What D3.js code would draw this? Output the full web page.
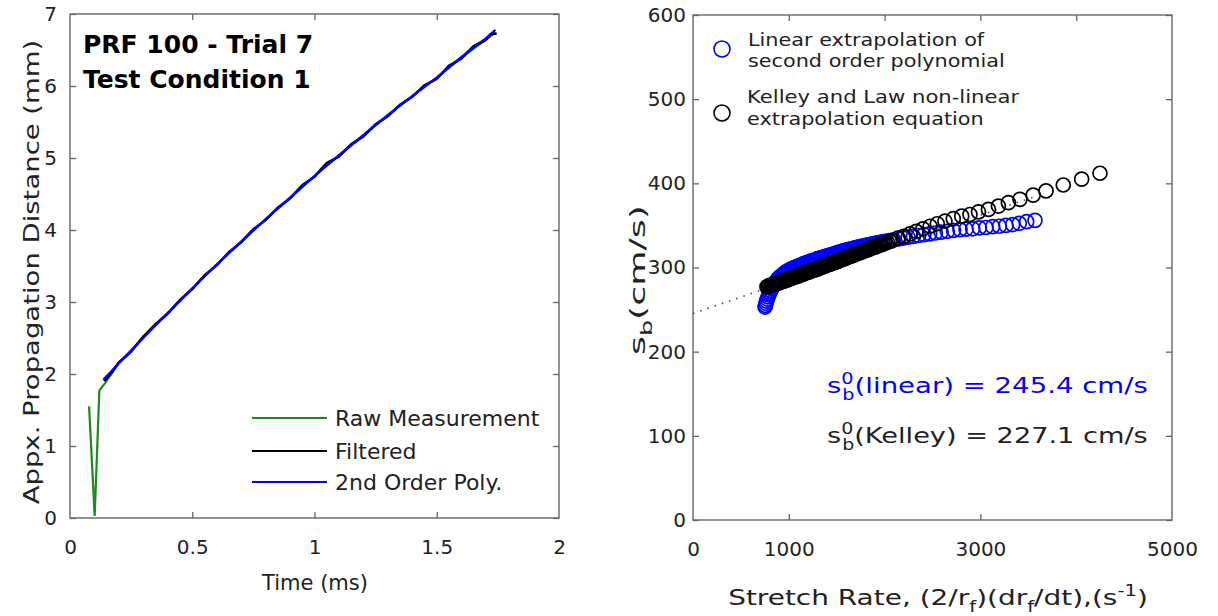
<!DOCTYPE html>
<html>
<head>
<meta charset="utf-8">
<script src="https://cdn.jsdelivr.net/npm/d3@7"></script>
<style>
  body { margin: 0; background: #fff; }
  text { font-family: "DejaVu Sans", Verdana, sans-serif; }
</style>
</head>
<body>
<svg id="chart" width="1218" height="616"></svg>
<script>
// left panel: propagation distance vs time
const rawT = [0.078, 0.101, 0.12, 0.145, 0.2, 0.3, 0.4, 0.5, 0.6, 0.7, 0.8, 0.9, 1.0, 1.1, 1.2, 1.3, 1.4, 1.5, 1.6, 1.7, 1.74];
const rawD = [1.55, 0.03, 1.77, 1.88, 2.15, 2.51, 2.84, 3.18, 3.52, 3.83, 4.15, 4.44, 4.75, 5.03, 5.31, 5.59, 5.86, 6.11, 6.39, 6.64, 6.74];
const filtT = [0.14, 0.17, 0.2, 0.25, 0.3, 0.35, 0.4, 0.45, 0.5, 0.55, 0.6, 0.65, 0.7, 0.75, 0.8, 0.85, 0.9, 0.95, 1.0, 1.05, 1.1, 1.15, 1.2, 1.25, 1.3, 1.35, 1.4, 1.45, 1.5, 1.55, 1.6, 1.65, 1.7, 1.72, 1.745];
const filtD = [1.90, 2.02, 2.16, 2.31, 2.52, 2.69, 2.84, 3.03, 3.18, 3.37, 3.51, 3.69, 3.83, 4.01, 4.14, 4.31, 4.44, 4.62, 4.74, 4.93, 5.02, 5.19, 5.30, 5.47, 5.58, 5.74, 5.85, 6.01, 6.10, 6.28, 6.38, 6.55, 6.64, 6.72, 6.73];
const polyT = [0.136, 0.2, 0.3, 0.4, 0.5, 0.6, 0.7, 0.8, 0.9, 1.0, 1.1, 1.2, 1.3, 1.4, 1.5, 1.6, 1.7, 1.74];
const polyD = [1.92, 2.15, 2.50, 2.85, 3.19, 3.52, 3.84, 4.15, 4.45, 4.75, 5.04, 5.32, 5.60, 5.86, 6.12, 6.40, 6.66, 6.78];
const leftXTicks = [0, 0.5, 1, 1.5, 2];
const leftYTicks = [0, 1, 2, 3, 4, 5, 6, 7];
const leftLegend = ["Raw Measurement", "Filtered", "2nd Order Poly."];

// right panel: burning velocity vs stretch rate
const linX = [3570, 3483, 3406, 3337, 3267, 3198, 3128, 3058, 2989, 2920, 2850, 2787, 2720, 2655, 2590, 2530, 2470, 2410, 2355, 2300, 2245, 2195, 2145, 2095, 2050,
  2005, 1980, 1960, 1935, 1915, 1895, 1875, 1855, 1835, 1815, 1795, 1775, 1755, 1735, 1720, 1700, 1685, 1665, 1650, 1630, 1615, 1595, 1580, 1565, 1550, 1535, 1520, 1505,
  1500, 1485, 1470, 1455, 1440, 1425, 1410, 1395, 1380, 1365, 1350, 1335, 1320, 1305, 1290, 1275, 1260, 1245, 1230, 1215, 1200, 1185, 1170, 1155, 1140, 1125, 1110, 1095,
  1080, 1065, 1050, 1035, 1020, 1005, 990, 975, 960, 945, 930, 915, 900, 890, 880, 870, 860, 850, 840, 830, 820, 810, 800, 792, 784, 776, 768, 762, 756, 752];
const linY = [356, 354.5, 352.5, 351, 350, 349, 348.5, 347.5, 347, 346, 345.5, 345, 344, 343, 342, 341, 340, 339, 338, 337, 336, 335, 334, 333, 332,
  331, 330.5, 330, 329.5, 329, 328.5, 328, 327.5, 327, 326.5, 326, 325.5, 325, 324.5, 324, 323.5, 323, 322.5, 322, 321.5, 321, 320.5, 320, 319.5, 319, 318.5, 318, 317.5,
  317, 316.5, 316, 315.5, 315, 314.5, 314, 313.5, 313, 312.5, 312, 311.5, 311, 310.5, 310, 309, 308.5, 308, 307.5, 307, 306, 305.5, 305, 304.5, 303.5, 303, 302, 301.5,
  301, 300, 299.5, 298.5, 298, 297, 296, 295, 294, 292.5, 291, 289.5, 288, 287, 285.5, 284, 282.5, 281, 279, 277, 275, 272.5, 270, 267.5, 265, 262.5, 260, 257.5, 255, 253];
const kelX = [4248, 4057, 3865, 3685, 3551, 3413, 3292, 3188, 3084, 2980, 2891, 2805, 2717, 2630, 2550, 2475, 2400, 2330, 2265, 2200, 2140, 2080,
  2055, 2030, 2005, 1985, 1965, 1945, 1925, 1905, 1885, 1865, 1845, 1825, 1805, 1785, 1765, 1745, 1725, 1705, 1685, 1665, 1645, 1625, 1605, 1585, 1565, 1545, 1525, 1505,
  1490, 1475, 1460, 1445, 1430, 1415, 1400, 1385, 1370, 1355, 1340, 1325, 1310, 1295, 1280, 1265, 1250, 1235, 1220, 1205, 1190, 1175, 1160, 1145, 1130, 1115, 1100,
  1085, 1070, 1055, 1040, 1025, 1010, 995, 980, 965, 950, 935, 920, 905, 890, 875, 860, 845, 830, 815, 800, 790, 780, 772];
const kelY = [412, 405, 398, 391, 386, 381, 377, 373, 369, 366, 363, 361, 358, 355, 352, 349, 346, 343, 340, 337, 335, 332,
  331, 330, 329, 328, 327, 326.5, 325.5, 324.5, 324, 323, 322, 321, 320.5, 319.5, 318.5, 317.5, 317, 316, 315, 314, 313.5, 312.5, 311.5, 310.5, 310, 309, 308, 307,
  306.5, 306, 305, 304.5, 304, 303.5, 303, 302, 301.5, 301, 300, 299.5, 299, 298, 297.5, 297, 296.5, 296, 295, 294.5, 294, 293.5, 292.5, 292, 291.5, 291, 290,
  289.5, 289, 288.5, 288, 287, 286.5, 286, 285, 284.5, 284, 283.5, 283, 282, 281.5, 281, 280.5, 280, 279.5, 279, 278.5, 278, 277.5, 277];
const fitX = [0, 3570];
const fitY = [245.4, 384.3];
const rightXLabels = [0, 1000, 3000, 5000];
const rightXTicks = [1000, 3000];
const rightTopTicks = [1000, 2000, 3000, 4000];
const rightYTicks = [0, 100, 200, 300, 400, 500, 600];

const svg = d3.select("#chart");
const frameColor = "#666";

const xL = d3.scaleLinear().domain([0, 2]).range([70, 559]);
const yL = d3.scaleLinear().domain([0, 7]).range([518, 14]);
const xR = d3.scaleLinear().domain([0, 5000]).range([693, 1172]);
const yR = d3.scaleLinear().domain([0, 600]).range([520, 15]);

//draws the boxed axes, ticks pointing inwards
function frame(x, y, bottomLabels, bottomTicks, topTicks, yTicks, yPad) {
  const [x0, x1] = x.range();
  const [y0, y1] = y.range();
  const fmt = d3.format("~g");
  const b = svg.append("g").attr("transform", `translate(0,${y0})`)
    .call(d3.axisBottom(x).tickValues(bottomLabels).tickSizeInner(0).tickSizeOuter(0).tickPadding(22).tickFormat(fmt));
  b.append("g").call(d3.axisBottom(x).tickValues(bottomTicks).tickSizeInner(-6).tickSizeOuter(0).tickFormat(""));
  svg.append("g").attr("transform", `translate(0,${y1})`)
    .call(d3.axisTop(x).tickValues(topTicks).tickSizeInner(-6).tickSizeOuter(0).tickFormat(""));
  svg.append("g").attr("transform", `translate(${x0},0)`)
    .call(d3.axisLeft(y).tickValues(yTicks).tickSizeInner(-6).tickSizeOuter(0).tickPadding(yPad).tickFormat(fmt));
  svg.append("g").attr("transform", `translate(${x1},0)`)
    .call(d3.axisRight(y).tickValues(yTicks).tickSizeInner(-6).tickSizeOuter(0).tickFormat(""));
  svg.selectAll(".domain").remove();
  svg.selectAll(".tick line").attr("stroke", frameColor).attr("stroke-width", 1.3);
  svg.selectAll(".tick text").attr("font-size", 20).attr("fill", "#222").attr("font-family", "DejaVu Sans");
  svg.append("rect").attr("x", x0).attr("y", y1).attr("width", x1 - x0).attr("height", y0 - y1)
    .attr("fill", "none").attr("stroke", frameColor).attr("stroke-width", 1.4);
}

frame(xL, yL, leftXTicks, [0.5, 1, 1.5], [0.5, 1, 1.5], leftYTicks, 13);
frame(xR, yR, rightXLabels, rightXTicks, rightTopTicks, rightYTicks, 7);

// text helper: parts = [text, shift, dx] with shift "sub"/"sup"; width stretches it to fit
function rich(x, y, parts, size, color, opts = {}) {
  const g = svg.append("g").attr("transform", `translate(${x},${y})${opts.rotate ? " rotate(-90)" : ""}`);
  const inner = g.append("g");
  const t = inner.append("text").attr("font-size", size).attr("fill", color)
    .attr("text-anchor", opts.anchor || "start").attr("font-weight", opts.bold ? "bold" : null);
  let shift = 0;
  parts.forEach(p => {
    const s = t.append("tspan").text(p[0]);
    let target = 0;
    if (p[1] === "sub") target = 0.32 * size;
    if (p[1] === "sup") target = -0.42 * size;
    if (p[1]) s.attr("font-size", size * 0.7);
    s.attr("dy", target - shift);
    if (p[2]) s.attr("dx", p[2]);
    shift = target;
  });
  if (opts.width) {
    const w = t.node().getBBox().width;
    inner.attr("transform", `scale(${opts.width / w},1)`);
  }
  return g;
}

// ---- left panel curves
const line = d3.line();
svg.append("path").attr("d", line(rawT.map((t, i) => [xL(t), yL(rawD[i])])))
  .attr("fill", "none").attr("stroke", "#1c8a1c").attr("stroke-width", 2.2);
svg.append("path").attr("d", line(filtT.map((t, i) => [xL(t), yL(filtD[i])])))
  .attr("fill", "none").attr("stroke", "#000").attr("stroke-width", 2.6);
svg.append("path").attr("d", line(polyT.map((t, i) => [xL(t), yL(polyD[i])])))
  .attr("fill", "none").attr("stroke", "#0000ff").attr("stroke-width", 2.2);

rich(83, 53, [["PRF 100 - Trial 7"]], 25, "#000", { bold: true });
rich(83, 88, [["Test Condition 1"]], 25, "#000", { bold: true });

const legColors = ["#1c8a1c", "#000", "#0000ff"];
const legY = [418, 451, 482];
leftLegend.forEach((name, i) => {
  svg.append("line").attr("x1", 252).attr("x2", 327).attr("y1", legY[i]).attr("y2", legY[i])
    .attr("stroke", legColors[i]).attr("stroke-width", 2.2);
  svg.append("text").attr("x", 335).attr("y", legY[i] + 8).attr("font-size", 22).attr("fill", "#222").text(name);
});

rich(315, 590, [["Time (ms)"]], 21, "#222", { anchor: "middle" });
rich(39, 272, [["Appx. Propagation Distance (mm)"]], 22, "#222", { anchor: "middle", rotate: true, width: 465 });

// ---- right panel
svg.append("path").attr("d", line(fitX.map((v, i) => [xR(v), yR(fitY[i])])))
  .attr("stroke", "#555").attr("stroke-width", 1.6).attr("stroke-dasharray", "1.6,6").attr("fill", "none");

svg.append("g").selectAll("circle").data(linX).join("circle")
  .attr("cx", d => xR(d)).attr("cy", (d, i) => yR(linY[i])).attr("r", 7)
  .attr("fill", "none").attr("stroke", "#0000ff").attr("stroke-width", 1.7);
svg.append("g").selectAll("circle").data(kelX).join("circle")
  .attr("cx", d => xR(d)).attr("cy", (d, i) => yR(kelY[i])).attr("r", 7)
  .attr("fill", "none").attr("stroke", "#000").attr("stroke-width", 1.7);

svg.append("circle").attr("cx", 722).attr("cy", 49).attr("r", 8)
  .attr("fill", "none").attr("stroke", "#0000ff").attr("stroke-width", 1.6);
svg.append("circle").attr("cx", 722).attr("cy", 113).attr("r", 8)
  .attr("fill", "none").attr("stroke", "#000").attr("stroke-width", 1.6);
rich(748, 46, [["Linear extrapolation of"]], 18, "#222", { width: 237 });
rich(748, 67, [["second order polynomial"]], 18, "#222", { width: 257 });
rich(747, 103, [["Kelley and Law non-linear"]], 18, "#222", { width: 273 });
rich(747, 125, [["extrapolation equation"]], 18, "#222", { width: 237 });

rich(827, 393, [["s"], ["0", "sup"], ["b", "sub", -9], ["(linear)  = 245.4 cm/s"]], 22, "#0000ff", { width: 321 });
rich(827, 443, [["s"], ["0", "sup"], ["b", "sub", -9], ["(Kelley) = 227.1 cm/s"]], 22, "#222", { width: 321 });

rich(938, 605, [["Stretch Rate, (2/r"], ["f", "sub"], [")(dr"], ["f", "sub"], ["/dt),(s"], ["-1", "sup"], [")"]], 22, "#222", { anchor: "middle", width: 420 });
rich(645, 280, [["s"], ["b", "sub"], ["(cm/s)"]], 22, "#222", { anchor: "middle", rotate: true, width: 150 });
</script>
</body>
</html>
